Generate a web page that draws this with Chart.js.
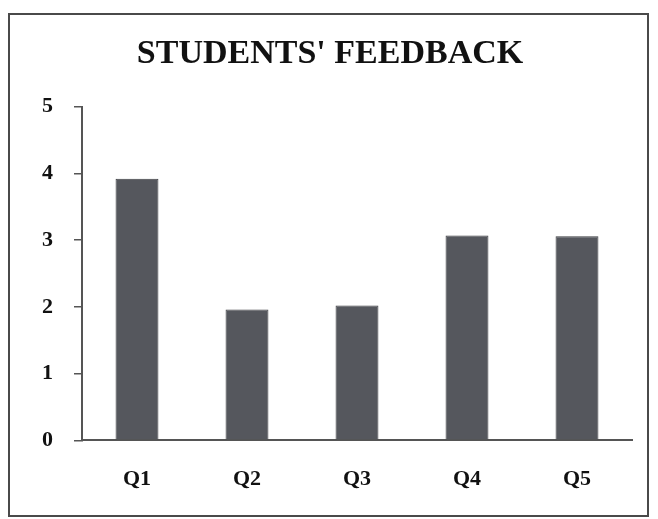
<!DOCTYPE html>
<html lang="en">
<head>
    <meta charset="UTF-8">
    <title>Students' Feedback</title>
    <script src="https://cdn.jsdelivr.net/npm/chart.js"></script>
    <style>
        body {
            margin: 0;
            background: white;
            overflow: hidden;
        }
        .chart-container {
            position: relative;
            width: 658px;
            height: 519px;
        }
        .frame {
            position: absolute;
            left: 8px;
            top: 13px;
            width: 637px;
            height: 500px;
            border: 2px solid #4a4a4a;
            pointer-events: none;
        }
    </style>
</head>
<body>
    <div class="chart-container">
        <canvas id="feedbackChart" width="658" height="519"></canvas>
        <div class="frame"></div>
    </div>
    <script>
        // values
        const questions = ['Q1', 'Q2', 'Q3', 'Q4', 'Q5'];
        const scores = [3.92, 1.96, 2.02, 3.07, 3.06];
        const yTicks = [0, 1, 2, 3, 4, 5];

        const serifBold = { family: "'Liberation Serif', 'Times New Roman', serif", weight: 'bold' };

        const ctx = document.getElementById('feedbackChart').getContext('2d');
        const chart = new Chart(ctx, {
            type: 'bar',
            data: {
                labels: questions,
                datasets: [{
                    label: 'Feedback',
                    data: scores,
                    backgroundColor: '#55575d',
                    borderColor: '#3c3d41',
                    borderWidth: 1,
                    categoryPercentage: 1,
                    barPercentage: 0.39
                }]
            },
            options: {
                responsive: false,
                animation: false,
                layout: {
                    padding: { left: 28, right: 26, top: 29, bottom: 0 }
                },
                plugins: {
                    legend: { display: false },
                    tooltip: { enabled: false },
                    title: {
                        display: true,
                        text: "STUDENTS' FEEDBACK",
                        color: '#111',
                        font: { ...serifBold, size: 34 },
                        padding: { top: 5, bottom: 32 }
                    }
                },
                scales: {
                    x: {
                        grid: { display: false, drawTicks: false },
                        border: { display: true, color: '#555', width: 2 },
                        ticks: {
                            color: '#111',
                            padding: 30,
                            font: { ...serifBold, size: 22, lineHeight: 0.85 }
                        }
                    },
                    y: {
                        min: 0,
                        max: 5,
                        afterFit: function(scale) { scale.width = 54; },
                        afterBuildTicks: function(scale) {
                            scale.ticks = yTicks.map(v => ({ value: v }));
                        },
                        grid: {
                            drawOnChartArea: false,
                            drawTicks: true,
                            tickLength: 8,
                            color: '#555',
                            lineWidth: 1.5
                        },
                        border: { display: true, color: '#555', width: 2 },
                        ticks: {
                            color: '#111',
                            padding: 21,
                            font: { ...serifBold, size: 22 }
                        }
                    }
                }
            }
        });
    </script>
</body>
</html>
